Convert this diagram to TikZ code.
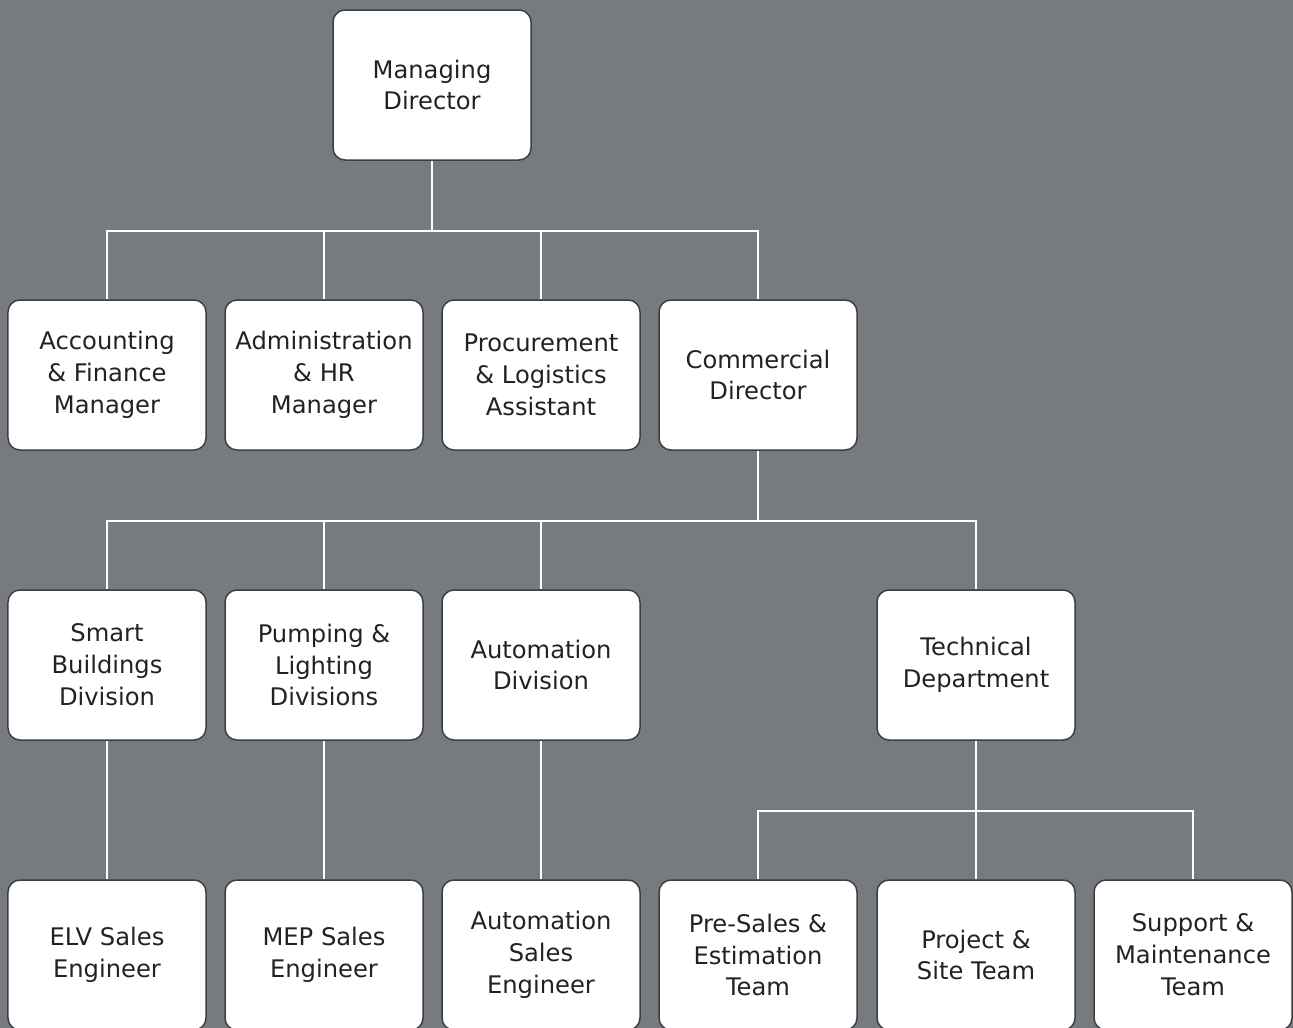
\documentclass[tikz,border=0pt]{standalone}
\usepackage{fontspec}
\setmainfont{DejaVu Sans}
\definecolor{bggray}{HTML}{777B7F}
\definecolor{boxline}{HTML}{3C3F42}
\definecolor{boxtext}{HTML}{222222}
\tikzset{
	unit/.style={draw=boxline, line width=1.5bp, fill=white, rounded corners=12bp,
		minimum width=198bp, minimum height=150bp, align=center, text=boxtext,
		inner sep=2bp, font=\fontsize{24.3}{32}\selectfont},
	link/.style={draw=white, line width=1.8bp}
}
\begin{document}
\begin{tikzpicture}[x=1bp, y=-1bp]
			\fill[bggray] (0,0) rectangle (1293,1028);
			\useasboundingbox (0,0) rectangle (1293,1028);

			% top
			\node[unit] (md) at ( 432, 85 ) { Managing\\Director };

			% first level
			\node[unit] (acc) at ( 107, 375 ) { Accounting\\\& Finance\\Manager };
			\node[unit] (adm) at ( 324, 375 ) { Administration\\\& HR\\Manager };
			\node[unit] (proc) at ( 541, 375 ) { Procurement\\\& Logistics\\Assistant };
			\node[unit] (cd) at ( 758, 375 ) { Commercial\\Director };

			% divisions
			\node[unit] (smart) at ( 107, 665 ) { Smart\\Buildings\\Division };
			\node[unit] (pump) at ( 324, 665 ) { Pumping \&\\Lighting\\Divisions };
			\node[unit] (auto) at ( 541, 665 ) { Automation\\Division };
			\node[unit] (tech) at ( 976, 665 ) { Technical\\Department };

			% teams
			\node[unit] (elv) at ( 107, 955 ) { ELV Sales\\Engineer };
			\node[unit] (mep) at ( 324, 955 ) { MEP Sales\\Engineer };
			\node[unit] (ase) at ( 541, 955 ) { Automation\\Sales\\Engineer };
			\node[unit] (pre) at ( 758, 955 ) { Pre-Sales \&\\Estimation\\Team };
			\node[unit] (site) at ( 976, 955 ) { Project \&\\Site Team };
			\node[unit] (supp) at ( 1193, 955 ) { Support \&\\Maintenance\\Team };

			\foreach \n in {acc, adm, proc, cd}
				\draw[link] (md.south) -- ++(0,70) -| (\n.north);
			\foreach \n in {smart, pump, auto, tech}
				\draw[link] (cd.south) -- ++(0,70) -| (\n.north);
			\draw[link] (smart) -- (elv);
			\draw[link] (pump) -- (mep);
			\draw[link] (auto) -- (ase);
			\foreach \n in {pre, site, supp}
				\draw[link] (tech.south) -- ++(0,70) -| (\n.north);
		\end{tikzpicture}
\end{document}
